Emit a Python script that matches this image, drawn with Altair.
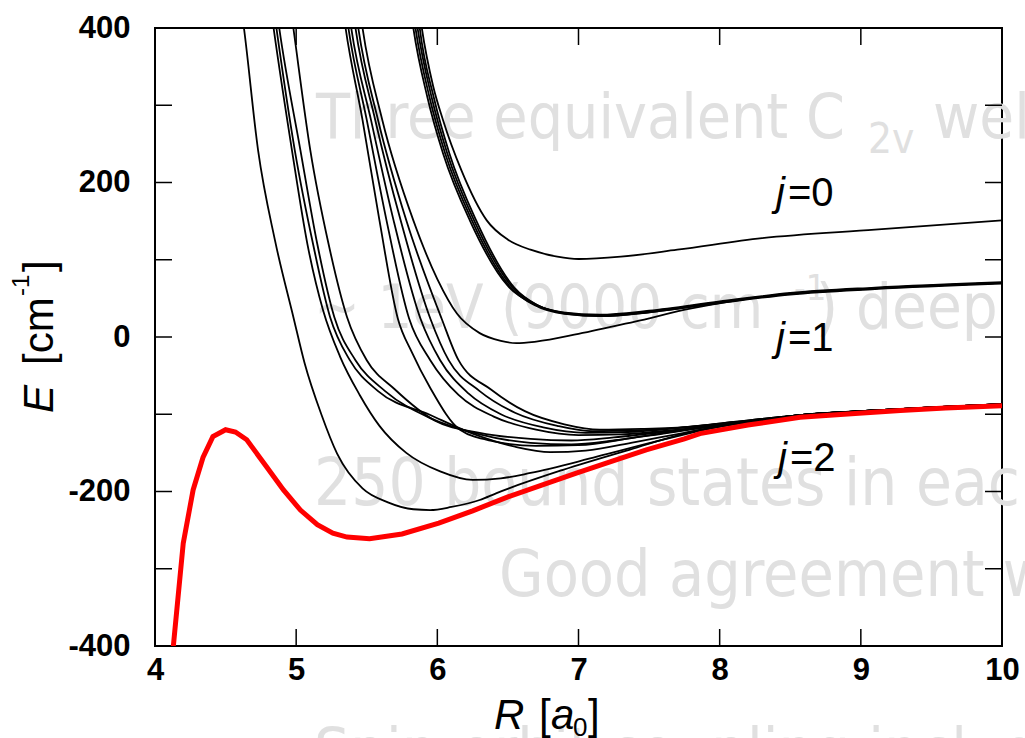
import altair as alt
import pandas as pd

# ---------------- data (R in a0, E in cm-1) ----------------
# red curve: lowest adiabatic potential
R_V = [4.10, 4.13, 4.20, 4.27, 4.34, 4.41, 4.50, 4.57, 4.65, 4.79, 4.91, 5.03, 5.15, 5.26, 5.36,
       5.52, 5.75, 6.01, 6.25, 6.50, 6.75, 6.99, 7.25, 7.48, 7.75, 7.86, 8.20, 8.57, 8.96, 9.28, 9.60, 10.0]
E_V = [-430, -400, -267, -198, -156, -129, -120, -123, -133, -168, -198, -224, -243, -254, -259,
       -261, -255, -241, -225, -207, -191, -176, -160, -146, -132, -125, -114, -104, -99, -95, -92, -89]

# black curves (j=2 family)
R_B1 = [4.60, 4.63, 4.73, 4.85, 4.98, 5.06, 5.18, 5.29, 5.47, 5.65, 5.83, 5.95, 6.10, 6.30, 6.42,
        6.89, 7.36, 7.84, 8.20, 8.57, 9.00, 9.50, 10.0]
E_B1 = [440, 400, 242, 125, 26, -34, -101, -151, -196, -214, -223, -224, -220, -211, -202,
        -172, -146, -121, -110, -101, -96, -91, -87]
R_B2 = [4.81, 4.84, 4.97, 5.08, 5.19, 5.31, 5.45, 5.59, 5.78, 6.02, 6.25, 6.45, 6.66, 7.13, 7.60,
        7.95, 8.20, 8.57, 9.00, 9.50, 10.0]
E_B2 = [440, 400, 242, 120, 35, -25, -75, -115, -150, -174, -185, -183, -176, -155, -133,
        -118, -110, -101, -96, -91, -87]
R_L3 = [4.83, 4.86, 4.99, 5.12, 5.24, 5.38, 5.58, 5.95, 6.25, 6.55, 6.80, 7.05, 7.40, 7.75, 8.20,
        8.57, 9.00, 9.50, 10.0]
E_L3 = [440, 400, 242, 120, 26, -30, -70, -101, -125, -142, -149, -147, -136, -124, -110,
        -101, -96, -91, -87]
R_L4 = [4.85, 4.88, 5.03, 5.15, 5.27, 5.42, 5.63, 5.95, 6.30, 6.66, 6.95, 7.25, 7.60, 7.90, 8.20,
        8.57, 9.00, 9.50, 10.0]
E_L4 = [440, 400, 242, 120, 26, -30, -70, -105, -126, -137, -139, -134, -125, -117, -110,
        -101, -96, -91, -87]
R_L5 = [4.95, 4.98, 5.10, 5.23, 5.36, 5.50, 5.70, 5.98, 6.30, 6.66, 6.95, 7.25, 7.60, 7.90, 8.20,
        8.57, 9.00, 9.50, 10.0]
E_L5 = [440, 400, 242, 120, 26, -30, -68, -108, -124, -132, -134, -130, -123, -116, -110,
        -101, -96, -91, -87]
R_M1 = [5.32, 5.35, 5.47, 5.59, 5.72, 5.82, 5.95, 6.16, 6.40, 6.70, 7.00, 7.40, 7.80, 8.20, 8.57,
        9.00, 9.50, 10.0]
E_M1 = [440, 400, 281, 151, 24, -20, -66, -120, -135, -141, -140, -130, -119, -110, -101,
        -96, -91, -87]
R_M2 = [5.34, 5.37, 5.50, 5.64, 5.80, 5.95, 6.15, 6.40, 6.70, 7.00, 7.30, 7.70, 8.10, 8.57, 9.00,
        9.50, 10.0]
E_M2 = [440, 400, 281, 151, 24, -30, -75, -103, -120, -127, -126, -120, -112, -101, -96, -91, -87]
R_M3 = [5.36, 5.39, 5.53, 5.69, 5.88, 6.02, 6.22, 6.45, 6.75, 7.05, 7.35, 7.70, 8.10, 8.57, 9.00,
        9.50, 10.0]
E_M3 = [440, 400, 281, 151, 24, -30, -73, -100, -117, -124, -123, -118, -111, -101, -96, -91, -87]
R_M4 = [5.39, 5.42, 5.56, 5.74, 5.95, 6.08, 6.30, 6.55, 6.85, 7.10, 7.40, 7.75, 8.10, 8.57, 9.00,
        9.50, 10.0]
E_M4 = [440, 400, 281, 151, 24, -30, -70, -98, -115, -122, -121, -117, -110, -101, -96, -91, -87]
R_M5 = [5.41, 5.44, 5.58, 5.78, 6.03, 6.15, 6.38, 6.62, 6.90, 7.15, 7.45, 7.80, 8.10, 8.57, 9.00,
        9.50, 10.0]
E_M5 = [440, 400, 281, 151, 24, -30, -68, -96, -113, -120, -119, -116, -110, -101, -96, -91, -87]

# j=1 family
R_J1L = [5.44, 5.47, 5.61, 5.83, 6.00, 6.14, 6.30, 6.45, 6.56, 6.70, 7.00, 7.40, 7.80, 8.30, 9.10, 10.0]
E_J1L = [440, 400, 281, 151, 75, 30, 5, -5, -8, -6, 4, 20, 37, 52, 63, 70]
R_J1A = [5.83, 5.86, 5.96, 6.07, 6.26, 6.53, 6.70, 6.91, 7.16, 7.50, 8.00, 8.50, 9.10, 10.0]
E_J1A = [440, 400, 310, 238, 151, 65, 42, 31, 28, 33, 45, 56, 63, 70]
R_J1B = [5.815, 5.845, 5.945, 6.055, 6.245, 6.515, 6.69, 6.90, 7.16, 7.50, 8.00, 8.50, 9.10, 10.0]
E_J1B = [440, 400, 310, 238, 151, 65, 41, 30, 27, 32, 45, 56, 63, 70]
R_J1C = [5.80, 5.83, 5.93, 6.04, 6.23, 6.50, 6.68, 6.89, 7.15, 7.50, 8.00, 8.50, 9.10, 10.0]
E_J1C = [440, 400, 310, 238, 151, 66, 43, 32, 29, 34, 46, 57, 64, 71]
R_J1D = [5.85, 5.875, 5.975, 6.085, 6.275, 6.545, 6.71, 6.92, 7.17, 7.50, 8.00, 8.50, 9.10, 10.0]
E_J1D = [440, 400, 310, 238, 151, 64, 41, 30, 27, 32, 44, 55, 62, 69]

# j=0 curve
R_J0 = [5.86, 5.89, 5.97, 6.04, 6.17, 6.35, 6.50, 6.66, 6.85, 7.00, 7.30, 7.70, 8.30, 9.10, 10.0]
E_J0 = [440, 400, 325, 281, 216, 151, 126, 113, 104, 101, 104, 113, 128, 139, 151]

X_LABELS = [4, 5, 6, 7, 8, 9, 10]
Y_LABELS = [-400, -200, 0, 200, 400]
X_TICKS = [5, 6, 7, 8, 9]
Y_TICKS = [-300, -200, -100, 0, 100, 200, 300]

BG_LINES = ["Three equivalent C", "wells", "~ 1eV (9000 cm", ") deep",
            "250 bound states in each well", "Good agreement with experiment",
            "Spin-orbit coupling included"]

# ---------------- build tables ----------------
CURVES = [("B1", R_B1, E_B1), ("B2", R_B2, E_B2), ("L3", R_L3, E_L3), ("L4", R_L4, E_L4),
          ("L5", R_L5, E_L5), ("M1", R_M1, E_M1), ("M2", R_M2, E_M2), ("M3", R_M3, E_M3),
          ("M4", R_M4, E_M4), ("M5", R_M5, E_M5), ("J1L", R_J1L, E_J1L), ("J1A", R_J1A, E_J1A),
          ("J1B", R_J1B, E_J1B), ("J1C", R_J1C, E_J1C), ("J1D", R_J1D, E_J1D), ("J0", R_J0, E_J0)]
rows = []
for name, rs, es in CURVES:
    for i, (r, e) in enumerate(zip(rs, es)):
        rows.append({"curve": name, "R": r, "E": e, "i": i})
black_df = pd.DataFrame(rows)
red_df = pd.DataFrame({"R": R_V, "E": E_V, "i": list(range(len(R_V)))})
xt_df = pd.DataFrame({"R": X_TICKS})
yt_df = pd.DataFrame({"E": Y_TICKS})

W, H = 847, 618
TL = 17
xs = alt.Scale(domain=[4, 10], nice=False, zero=False)
ys = alt.Scale(domain=[-400, 400], nice=False, zero=False)
LABEL_FONT = "Liberation Sans"
BG_FONT = "DejaVu Sans Condensed, Open Sans"
GREY = "#e0e0e0"

x_axis = alt.Axis(values=X_LABELS, labelExpr="'' + datum.value", title=None, grid=False,
                  domain=False, ticks=False, tickSize=0, labelPadding=9, labelFont=LABEL_FONT,
                  labelFontSize=31, labelFontWeight="bold", labelColor="black",
                  labelFlush=False, labelOverlap=False)
y_axis = alt.Axis(values=Y_LABELS, labelExpr="'' + datum.value", title=None, grid=False,
                  domain=False, ticks=False, tickSize=0, labelPadding=25, labelFont=LABEL_FONT,
                  labelFontSize=31, labelFontWeight="bold", labelColor="black",
                  labelFlush=False, labelOverlap=False)


def txt(s, x, y, size, color="black", font=LABEL_FONT, style="normal", weight="normal",
        align="left", angle=0):
    return alt.Chart(alt.Data(values=[{}])).mark_text(
        text=s, fontSize=size, font=font, fontStyle=style, fontWeight=weight, color=color,
        align=align, baseline="alphabetic", angle=angle
    ).encode(x=alt.value(x), y=alt.value(y))


bg = [
    txt(BG_LINES[0], 161, 110, 62, GREY, BG_FONT),
    txt("2v", 713, 125, 42, GREY, BG_FONT),
    txt(BG_LINES[1], 778, 110, 63, GREY, BG_FONT),
    txt(BG_LINES[2], 159, 300, 61, GREY, BG_FONT),
    txt("-1", 639, 272, 36, GREY, BG_FONT),
    txt(BG_LINES[3], 661, 300, 63, GREY, BG_FONT),
    txt(BG_LINES[4], 159, 477, 65, GREY, BG_FONT),
    txt(BG_LINES[5], 344, 568, 64, GREY, BG_FONT),
    txt(BG_LINES[6], 159, 744, 63, GREY, BG_FONT),
]

black = alt.Chart(black_df).mark_line(
    color="black", strokeWidth=1.8, clip=True, interpolate="monotone"
).encode(
    x=alt.X("R:Q", scale=xs, axis=x_axis),
    y=alt.Y("E:Q", scale=ys, axis=y_axis),
    detail="curve:N",
    order="i:Q",
)

red = alt.Chart(red_df).mark_line(color="#ff0000", strokeWidth=5, clip=True).encode(
    x=alt.X("R:Q", scale=xs, axis=x_axis),
    y=alt.Y("E:Q", scale=ys, axis=y_axis),
    order="i:Q",
)

tick_style = dict(color="black", strokeWidth=1.5)
left_ticks = alt.Chart(yt_df).mark_rule(**tick_style).encode(
    y=alt.Y("E:Q", scale=ys, axis=y_axis), x=alt.value(0), x2=alt.value(TL))
right_ticks = alt.Chart(yt_df).mark_rule(**tick_style).encode(
    y=alt.Y("E:Q", scale=ys, axis=y_axis), x=alt.value(W - TL), x2=alt.value(W))
bottom_ticks = alt.Chart(xt_df).mark_rule(**tick_style).encode(
    x=alt.X("R:Q", scale=xs, axis=x_axis), y=alt.value(H - TL), y2=alt.value(H))
top_ticks = alt.Chart(xt_df).mark_rule(**tick_style).encode(
    x=alt.X("R:Q", scale=xs, axis=x_axis), y=alt.value(0), y2=alt.value(TL))

labels = [
    # j labels
    txt("j", 621, 178, 40, style="italic"),
    txt("=0", 633, 178, 40),
    txt("j", 621, 323, 40, style="italic"),
    txt("=1", 633, 323, 40),
    txt("j", 623, 443, 40, style="italic"),
    txt("=2", 635, 443, 40),
    # x title  R [a0]
    txt("R", 339, 701, 42, style="italic"),
    txt("[", 384, 701, 42),
    txt("a", 396, 701, 42, style="italic"),
    txt("0", 418, 708, 26),
    txt("]", 433, 701, 42),
    # y title  E [cm-1]
    txt("E", -102, 385, 42, style="italic", angle=270),
    txt("[cm", -102, 337, 42, angle=270),
    txt("-1", -126, 268, 24, angle=270),
    txt("]", -102, 244, 42, angle=270),
]

chart = alt.layer(
    *bg, black, red, left_ticks, right_ticks, bottom_ticks, top_ticks, *labels
).properties(
    width=W, height=H,
    padding={"left": 155, "top": 28, "right": 23, "bottom": 92},
    autosize=alt.AutoSizeParams(type="none"),
    background="white",
).configure_view(stroke="black", strokeWidth=2)

chart.save("out.html", embed_options={"renderer": "svg", "actions": False})
